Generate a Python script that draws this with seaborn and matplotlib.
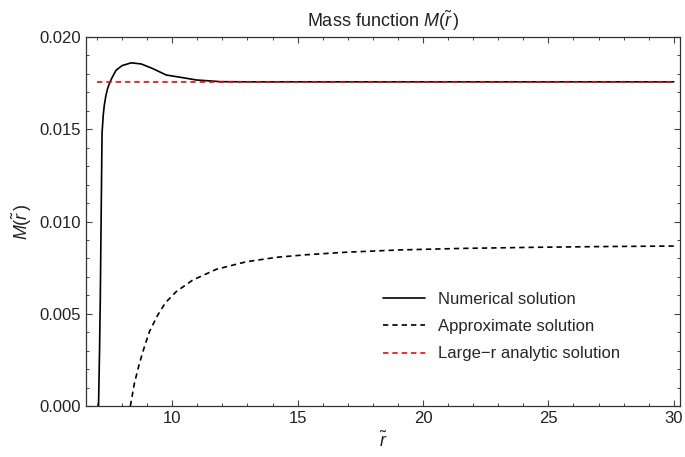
import matplotlib
matplotlib.use("Agg")
import matplotlib.pyplot as plt
from matplotlib.ticker import MultipleLocator, FormatStrFormatter
import seaborn as sns

# numerical solution
r_num = [7.03, 7.06, 7.10, 7.13, 7.17, 7.20, 7.25, 7.29, 7.35, 7.42, 7.50, 7.60,
         7.76, 8.0, 8.36, 8.76, 9.2, 9.76, 10.4, 10.96, 11.5, 11.9, 13.0, 15.0,
         20.0, 25.0, 30.0]
m_num = [-0.001, 0.0, 0.0030, 0.0058, 0.0110, 0.0148, 0.0158, 0.0163, 0.0168,
         0.0172, 0.0175, 0.0178, 0.0182, 0.01845, 0.0186, 0.01854, 0.0183,
         0.01794, 0.0178, 0.01767, 0.01762, 0.01758, 0.01757, 0.01757, 0.01757,
         0.01757, 0.01757]

# approximate solution
r_app = [8.20, 8.33, 8.49, 8.69, 8.89, 9.09, 9.42, 9.73, 10.16, 10.82, 11.76,
         12.96, 14.16, 15.36, 17.0, 19.1, 21.5, 24.4, 27.0, 30.0]
m_app = [-0.001, 0.0, 0.00123, 0.00231, 0.00321, 0.00403, 0.00493, 0.0056,
         0.0062, 0.00683, 0.00741, 0.00782, 0.00806, 0.0082, 0.00834, 0.00846,
         0.00854, 0.0086, 0.00864, 0.00867]

# large-r analytic solution
r_big = [7.0, 30.0]
m_big = [0.01755, 0.01755]

sns.set_style("ticks")
plt.rcParams['font.family'] = ['Liberation Sans', 'DejaVu Sans']
plt.rcParams['mathtext.fontset'] = 'custom'
plt.rcParams['mathtext.rm'] = 'Liberation Sans'
plt.rcParams['mathtext.it'] = 'Liberation Sans:italic'

fig = plt.figure(figsize=(6.85, 4.57), dpi=100)
ax = fig.add_axes([86/685, 1-406/457, (680-86)/685, (406-37)/457])

sns.lineplot(x=r_num, y=m_num, ax=ax, color='black', lw=1.2, estimator=None,
             label='Numerical solution')
sns.lineplot(x=r_app, y=m_app, ax=ax, color='black', lw=1.2, estimator=None,
             linestyle=(0, (3.2, 2.4)), label='Approximate solution')
sns.lineplot(x=r_big, y=m_big, ax=ax, color='red', lw=1.2, estimator=None,
             linestyle=(0, (3.2, 2.4)), label='Large\u2212r analytic solution')

ax.set_xlim(6.56, 30.25)
ax.set_ylim(0, 0.020)
ax.xaxis.set_major_locator(MultipleLocator(5))
ax.xaxis.set_minor_locator(MultipleLocator(1))
ax.yaxis.set_major_locator(MultipleLocator(0.005))
ax.yaxis.set_minor_locator(MultipleLocator(0.001))
ax.yaxis.set_major_formatter(FormatStrFormatter('%.3f'))
ax.tick_params(which='both', direction='in', top=True, right=True,
               color='#444444', labelsize=12, labelcolor='#222222')
ax.tick_params(which='major', length=4.5, width=0.8)
ax.tick_params(which='minor', length=2.5, width=0.7)
for s in ax.spines.values():
    s.set_color('#333333')
    s.set_linewidth(0.9)

ax.set_title(r'Mass function $M(\tilde{r}\,)$', fontsize=13, pad=7, color='#222222')
ax.set_xlabel(r'$\tilde{r}$', fontsize=13, color='#222222')
ax.set_ylabel(r'$M(\tilde{r}\,)$', fontsize=13, color='#222222')

ax.legend(loc='upper left', bbox_to_anchor=(383/685, 1-292/457),
          bbox_transform=fig.transFigure, frameon=False, fontsize=12,
          handlelength=2.5, handletextpad=0.8, labelspacing=0.73, borderpad=0,
          borderaxespad=0)

fig.savefig('out.png', dpi=100)
